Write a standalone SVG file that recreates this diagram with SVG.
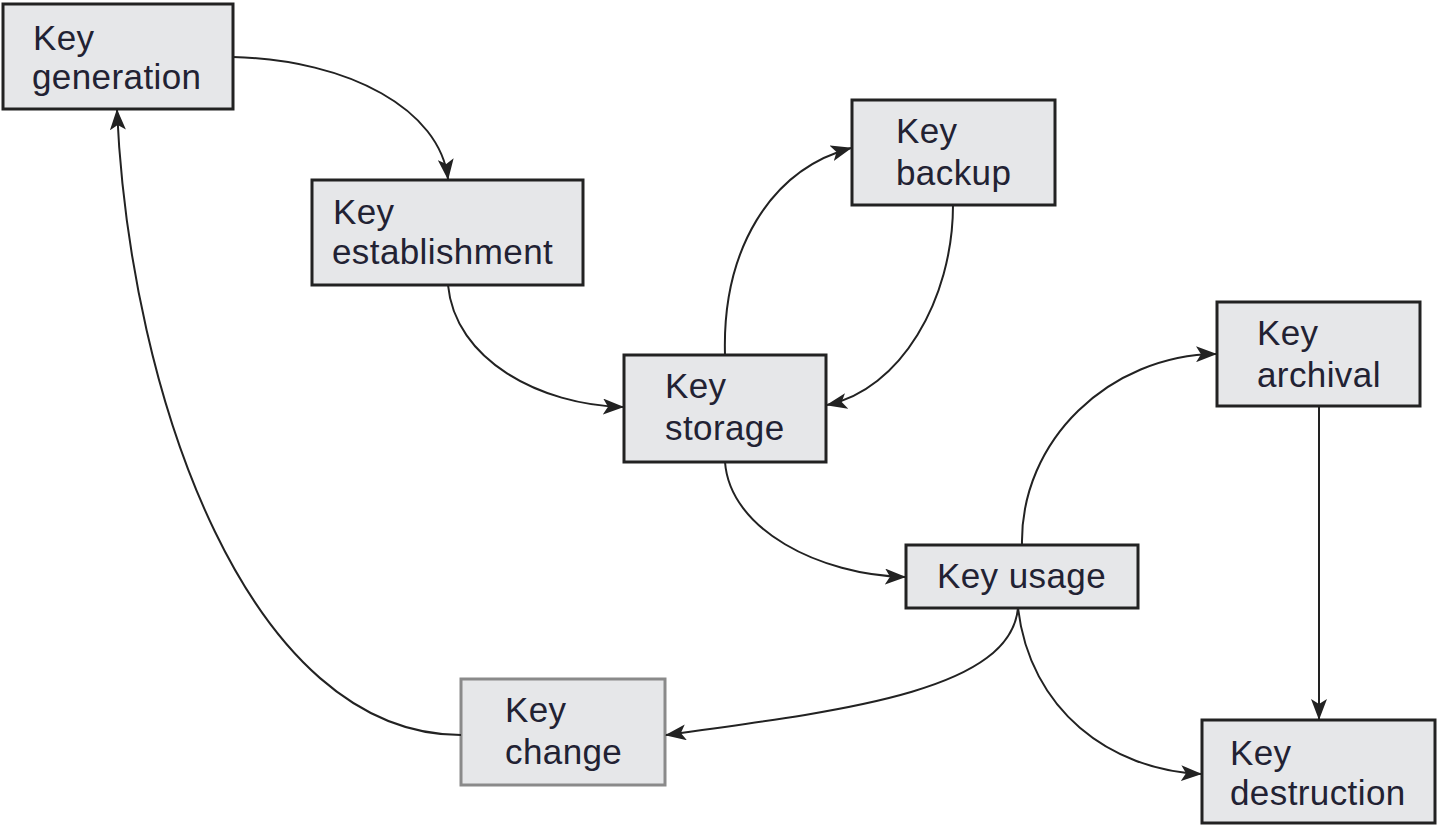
<svg xmlns="http://www.w3.org/2000/svg" width="1437" height="825" viewBox="0 0 1437 825">
<style>
.box{fill:#e6e7e9;stroke:#222;stroke-width:3}
.box2{fill:#e6e7e9;stroke:#8a8a8a;stroke-width:3}
.t{font-family:"Liberation Sans",Arial,sans-serif;font-size:35px;letter-spacing:0.4px;fill:#222233}
.c{fill:none;stroke:#222;stroke-width:2}
</style>
<defs>
<marker id="ah" markerWidth="22" markerHeight="16" refX="20" refY="8" orient="auto" markerUnits="userSpaceOnUse">
<path d="M0,0 L21,8 L0,16 L5,8 z" fill="#222"/>
</marker>
</defs>
<g id="n-generation"><rect class="box" x="3" y="4" width="230" height="105"/><text class="t" x="33" y="50">Key</text><text class="t" x="32" y="89">generation</text></g>
<g id="n-establishment"><rect class="box" x="312" y="180" width="271" height="105"/><text class="t" x="333" y="224">Key</text><text class="t" x="332" y="264">establishment</text></g>
<g id="n-backup"><rect class="box" x="852" y="100" width="203" height="105"/><text class="t" x="896" y="143">Key</text><text class="t" x="896" y="185">backup</text></g>
<g id="n-storage"><rect class="box" x="624" y="355" width="202" height="107"/><text class="t" x="665" y="398">Key</text><text class="t" x="665" y="440">storage</text></g>
<g id="n-archival"><rect class="box" x="1217" y="302" width="203" height="104"/><text class="t" x="1257" y="345">Key</text><text class="t" x="1257" y="387">archival</text></g>
<g id="n-usage"><rect class="box" x="906" y="545" width="232" height="63"/><text class="t" x="937" y="588">Key usage</text></g>
<g id="n-change"><rect class="box2" x="461" y="679" width="204" height="106"/><text class="t" x="505" y="722">Key</text><text class="t" x="505" y="764">change</text></g>
<g id="n-destruction"><rect class="box" x="1202" y="720" width="233" height="103"/><text class="t" x="1230" y="765">Key</text><text class="t" x="1230" y="805">destruction</text></g>
<g id="connectors">
<path class="c" marker-end="url(#ah)" d="M233,57 C350,60 440,110 448,179"/>
<path class="c" marker-end="url(#ah)" d="M448,285 C455,360 540,405 623,407"/>
<path class="c" marker-end="url(#ah)" d="M725,355 C722,250 770,170 851,148"/>
<path class="c" marker-end="url(#ah)" d="M953,205 C953,300 900,390 827,405"/>
<path class="c" marker-end="url(#ah)" d="M725,462 C730,530 820,575 905,577"/>
<path class="c" marker-end="url(#ah)" d="M1022,545 C1020,440 1110,355 1216,354"/>
<path class="c" marker-end="url(#ah)" d="M1319,406 L1319,719"/>
<path class="c" marker-end="url(#ah)" d="M1018,608 C1030,710 1110,770 1201,774"/>
<path class="c" marker-end="url(#ah)" d="M1018,608 C1010,690 850,710 666,735"/>
<path class="c" marker-end="url(#ah)" d="M461,735 C250,735 130,400 117,110"/>
</g>
</svg>
